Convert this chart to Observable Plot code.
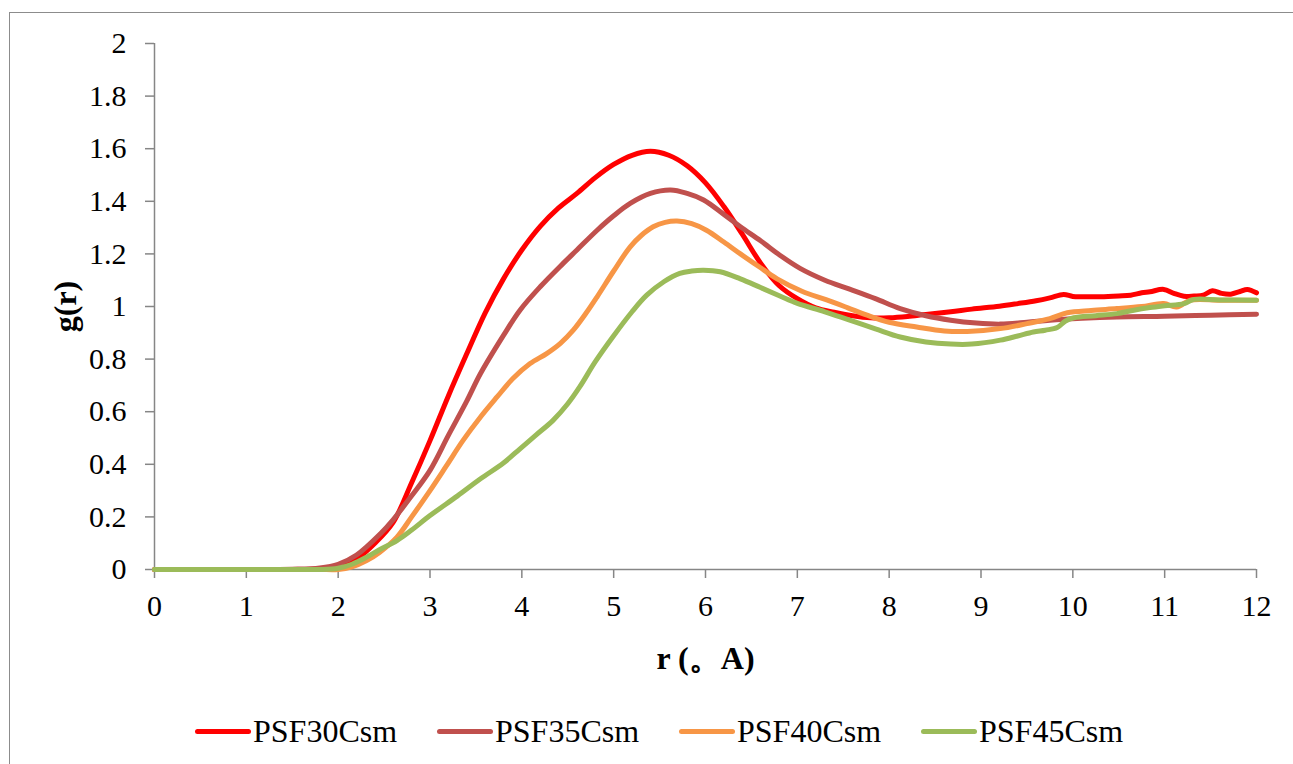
<!DOCTYPE html>
<html>
<head>
<meta charset="utf-8">
<script src="https://cdn.jsdelivr.net/npm/d3@7"></script>
<script src="https://cdn.jsdelivr.net/npm/@observablehq/plot@0.6"></script>
<style>
  html, body { margin: 0; padding: 0; background: #fff; overflow: hidden; width: 1293px; height: 764px; }
  #frame { position: absolute; left: 9px; top: 12px; width: 1400px; height: 900px;
           border-left: 1.5px solid #8c8c8c; border-top: 1.5px solid #8c8c8c; box-sizing: border-box; }
  #chart { position: absolute; left: 0; top: 0; }
  #legend { position: absolute; left: 195px; top: 710px; height: 42px; display: flex; align-items: center;
            font-family: "Liberation Serif", "Times New Roman", serif; font-size: 32px; color: #000; }
  .item { display: flex; align-items: center; width: 242px; }
  .sw { width: 56px; height: 5px; border-radius: 3px; margin-right: 2px; }
</style>
</head>
<body>
<div id="frame"></div>
<div id="chart"></div>
<div id="legend"></div>
<script>
const seriesNames = ["PSF30Csm", "PSF35Csm", "PSF40Csm", "PSF45Csm"];
const seriesColors = ["#FF0000", "#C0504D", "#F79646", "#9BBB59"];

const r30 = [0, 0.5, 1, 1.5, 1.8, 2.0, 2.2, 2.4, 2.6, 2.8, 3.0, 3.2, 3.4, 3.6, 3.8, 4.0, 4.2, 4.4, 4.6, 4.8, 5.0, 5.2, 5.4, 5.6, 5.8, 6.0, 6.2, 6.4, 6.6, 6.8, 7.0, 7.2, 7.4, 7.6, 7.8, 8.0, 8.2, 8.4, 8.67, 8.9, 9.2, 9.4, 9.6, 9.75, 9.9, 10.0, 10.12, 10.3, 10.5, 10.63, 10.75, 10.84, 10.99, 11.1, 11.21, 11.32, 11.42, 11.52, 11.62, 11.72, 11.82, 11.9, 12.0];
const g30 = [0, 0, 0, 0, 0.002, 0.01, 0.04, 0.10, 0.18, 0.33, 0.49, 0.66, 0.82, 0.975, 1.105, 1.215, 1.305, 1.375, 1.43, 1.49, 1.54, 1.575, 1.59, 1.575, 1.535, 1.47, 1.38, 1.275, 1.165, 1.08, 1.03, 0.995, 0.978, 0.965, 0.957, 0.957, 0.962, 0.970, 0.98, 0.99, 1.001, 1.011, 1.022, 1.033, 1.046, 1.038, 1.037, 1.037, 1.040, 1.043, 1.052, 1.056, 1.065, 1.05, 1.039, 1.04, 1.043, 1.06, 1.05, 1.047, 1.057, 1.065, 1.052];

const r35 = [0, 0.5, 1, 1.5, 1.8, 2.0, 2.2, 2.46, 2.6, 2.8, 3.0, 3.2, 3.4, 3.55, 3.8, 3.98, 4.2, 4.45, 4.6, 4.82, 5.0, 5.18, 5.4, 5.62, 5.8, 5.98, 6.2, 6.38, 6.6, 6.81, 7.03, 7.3, 7.57, 7.85, 8.12, 8.4, 8.67, 8.95, 9.21, 9.5, 9.75, 10.1, 10.48, 11.0, 11.5, 12.0];
const g35 = [0, 0, 0, 0.001, 0.006, 0.02, 0.055, 0.136, 0.19, 0.28, 0.377, 0.51, 0.64, 0.745, 0.89, 0.986, 1.075, 1.164, 1.215, 1.29, 1.345, 1.392, 1.43, 1.443, 1.43, 1.405, 1.35, 1.303, 1.25, 1.195, 1.145, 1.1, 1.066, 1.03, 0.992, 0.965, 0.948, 0.937, 0.933, 0.94, 0.948, 0.955, 0.96, 0.963, 0.967, 0.971];

const r40 = [0, 0.5, 1, 1.5, 1.8, 2.0, 2.15, 2.31, 2.45, 2.64, 2.8, 3.0, 3.18, 3.36, 3.55, 3.73, 3.9, 4.09, 4.27, 4.42, 4.56, 4.7, 4.82, 5.0, 5.18, 5.3, 5.43, 5.56, 5.69, 5.85, 6.01, 6.2, 6.38, 6.58, 6.78, 7.05, 7.32, 7.55, 7.76, 8.0, 8.3, 8.6, 8.85, 9.21, 9.5, 9.75, 9.94, 10.2, 10.48, 10.75, 10.99, 11.13, 11.28, 11.6, 12.0];
const g40 = [0, 0, 0, 0, 0, 0, 0.01, 0.034, 0.065, 0.123, 0.2, 0.30, 0.395, 0.491, 0.58, 0.656, 0.725, 0.783, 0.821, 0.86, 0.91, 0.975, 1.037, 1.135, 1.227, 1.27, 1.303, 1.32, 1.325, 1.315, 1.29, 1.245, 1.2, 1.152, 1.105, 1.058, 1.025, 0.995, 0.967, 0.94, 0.922, 0.907, 0.905, 0.916, 0.935, 0.954, 0.976, 0.985, 0.992, 1.0, 1.011, 0.998, 1.024, 1.024, 1.024];

const r45 = [0, 0.5, 1, 1.5, 1.8, 2.0, 2.15, 2.31, 2.45, 2.64, 2.8, 3.0, 3.3, 3.55, 3.8, 3.98, 4.15, 4.34, 4.5, 4.63, 4.8, 4.99, 5.2, 5.36, 5.55, 5.72, 5.85, 5.98, 6.16, 6.38, 6.6, 6.81, 7.0, 7.3, 7.57, 7.85, 8.12, 8.4, 8.67, 8.9, 9.21, 9.4, 9.57, 9.7, 9.83, 9.92, 10.01, 10.25, 10.48, 10.65, 10.84, 11.0, 11.21, 11.32, 11.6, 12.0];
const g45 = [0, 0, 0, 0, 0, 0.005, 0.02, 0.047, 0.075, 0.11, 0.15, 0.205, 0.28, 0.345, 0.405, 0.459, 0.51, 0.567, 0.63, 0.694, 0.79, 0.884, 0.98, 1.043, 1.095, 1.126, 1.135, 1.138, 1.132, 1.105, 1.072, 1.04, 1.012, 0.98, 0.948, 0.915, 0.884, 0.865, 0.857, 0.857, 0.872, 0.888, 0.903, 0.91, 0.92, 0.945, 0.957, 0.965, 0.973, 0.985, 0.996, 1.003, 1.011, 1.027, 1.025, 1.024];

const xTicks = [0, 1, 2, 3, 4, 5, 6, 7, 8, 9, 10, 11, 12];
const yTicks = [0, 0.2, 0.4, 0.6, 0.8, 1, 1.2, 1.4, 1.6, 1.8, 2];
const yTickLabels = ["0", "0.2", "0.4", "0.6", "0.8", "1", "1.2", "1.4", "1.6", "1.8", "2"];
const xLabel = "r (。A)";
const yLabel = "g(r)";

const rs = [r30, r35, r40, r45];
const gs = [g30, g35, g40, g45];
const rows = [];
seriesNames.forEach((name, i) => rs[i].forEach((r, j) => rows.push({series: name, r, g: gs[i][j]})));

const font = "'Liberation Serif', 'Times New Roman', serif";
const axisGray = "#868686";

const chart = Plot.plot({
  width: 1293,
  height: 690,
  marginLeft: 154,
  marginRight: 37,
  marginTop: 43,
  marginBottom: 121,
  style: {fontFamily: font, fontSize: "30px", background: "transparent", color: "#000"},
  x: {domain: [0, 12]},
  y: {domain: [0, 2]},
  color: {domain: seriesNames, range: seriesColors},
  marks: [
    Plot.axisX({ticks: xTicks, tickFormat: d => String(d), tickSize: 9, tickPadding: 16, stroke: axisGray, strokeWidth: 1.5, fontSize: 30, fontFamily: font, label: null}),
    Plot.axisY({ticks: yTicks, tickFormat: d => yTickLabels[yTicks.indexOf(d)], tickSize: 9, tickPadding: 19, stroke: axisGray, strokeWidth: 1.5, fontSize: 30, fontFamily: font, label: null}),
    Plot.ruleY([0], {stroke: axisGray, strokeWidth: 1.5}),
    Plot.ruleX([0], {stroke: axisGray, strokeWidth: 1.5}),
    Plot.line(rows, {x: "r", y: "g", z: "series", stroke: "series", strokeWidth: 5, curve: "catmull-rom", strokeLinejoin: "round", strokeLinecap: "round"}),
    Plot.text([xLabel], {text: d => d, frameAnchor: "bottom", dy: 89, fontWeight: "bold", fontSize: 32, fontFamily: font, textAnchor: "middle", lineAnchor: "middle"}),
    Plot.text([yLabel], {text: d => d, frameAnchor: "left", dx: -89, rotate: -90, fontWeight: "bold", fontSize: 32, fontFamily: font, textAnchor: "middle", lineAnchor: "middle"})
  ]
});
document.getElementById("chart").appendChild(chart);

const legend = document.getElementById("legend");
seriesNames.forEach((name, i) => {
  const item = document.createElement("div");
  item.className = "item";
  const sw = document.createElement("span");
  sw.className = "sw";
  sw.style.background = seriesColors[i];
  const t = document.createElement("span");
  t.textContent = name;
  item.appendChild(sw);
  item.appendChild(t);
  legend.appendChild(item);
});
</script>
</body>
</html>
